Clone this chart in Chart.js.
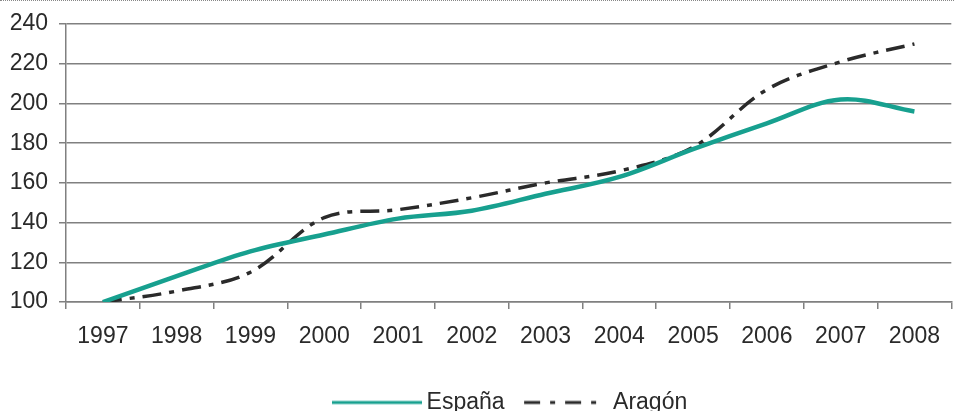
<!DOCTYPE html>
<html lang="es">
<head>
<meta charset="UTF-8">
<title>España - Aragón</title>
<script src="https://cdn.jsdelivr.net/npm/chart.js"></script>
<style>
  html, body { margin: 0; padding: 0; background: #fff; }
  .marco { width: 954px; height: 410px; border-top: 1px dotted #888; overflow: hidden; }
  canvas { display: block; }
</style>
</head>
<body>
<div class="marco">
  <canvas id="grafica" width="954" height="423"></canvas>
</div>
<script>
// años del eje horizontal
const anios = ['1997', '1998', '1999', '2000', '2001', '2002', '2003', '2004', '2005', '2006', '2007', '2008'];
// índices (1997 = 100)
const espana = [100, 113, 125.5, 134, 142, 146, 154.5, 163, 177, 190, 202, 196];
const aragon = [100, 105.5, 115, 142.5, 146.5, 152.5, 160, 166, 178, 207, 221, 230];
const ticksY = [100, 120, 140, 160, 180, 200, 220, 240];

const gris = '#808080';
const verde = '#17a08f';
const negro = '#2a2a2a';
const fuente = { family: 'Liberation Sans, Arial, sans-serif', size: 23 };
const trazoAragon = [19, 8, 5, 8];

// símbolo de la leyenda: un trozo de línea dibujado en un canvas pequeño
function simbolo(largo, color, guiones) {
  const c = document.createElement('canvas');
  c.width = 90;
  c.height = 8;
  const ctx = c.getContext('2d');
  ctx.strokeStyle = color;
  ctx.lineWidth = 3;
  ctx.setLineDash(guiones);
  ctx.beginPath();
  ctx.moveTo(90 - largo, 4);
  ctx.lineTo(90, 4);
  ctx.stroke();
  return c;
}
const simbolos = [simbolo(90, verde, []), simbolo(84, negro, [16, 10, 5, 10, 16, 10, 5, 20])];

// la leyenda va un poco desplazada a la derecha
const moverLeyenda = {
  id: 'moverLeyenda',
  afterLayout(chart) {
    chart.legend.left += 4;
    chart.legend.right += 4;
  }
};

const config = {
  type: 'line',
  data: {
    labels: anios,
    datasets: [{
      label: 'España',
      data: espana,
      borderColor: verde,
      backgroundColor: verde,
      borderWidth: 4.5,
      tension: 0.35,
      pointRadius: 0
    }, {
      label: 'Aragón',
      data: aragon,
      borderColor: negro,
      backgroundColor: negro,
      borderWidth: 3.5,
      borderDash: trazoAragon,
      tension: 0.35,
      pointRadius: 0
    }]
  },
  options: {
    responsive: false,
    animation: false,
    layout: { padding: { top: 7, left: 10, right: 0, bottom: 0 } },
    plugins: {
      tooltip: { enabled: false },
      legend: {
        position: 'bottom',
        fullSize: false,
        labels: {
          usePointStyle: true,
          pointStyleWidth: 77,
          color: negro,
          font: fuente,
          padding: 20,
          generateLabels: (chart) => {
            const items = Chart.defaults.plugins.legend.labels.generateLabels(chart);
            items.forEach((it, i) => { it.pointStyle = simbolos[i]; });
            return items;
          }
        }
      }
    },
    scales: {
      x: {
        offset: true,
        afterFit: (eje) => { eje.height = 69; },
        grid: {
          offset: true,
          drawOnChartArea: false,
          tickLength: 7,
          color: gris,
          lineWidth: 1.5
        },
        border: { color: gris, width: 1.5 },
        ticks: { color: negro, font: fuente, maxRotation: 0, autoSkip: false, padding: 14 }
      },
      y: {
        min: 100,
        max: 240,
        afterBuildTicks: (eje) => { eje.ticks = ticksY.map(v => ({ value: v })); },
        afterFit: (eje) => { eje.width = 56; },
        grid: { color: gris, lineWidth: 1.5, tickLength: 7 },
        border: { color: gris, width: 1.5 },
        ticks: { color: negro, font: { ...fuente, lineHeight: 1.05 }, padding: 11 }
      }
    }
  },
  plugins: [moverLeyenda]
};

new Chart(document.getElementById('grafica'), config);
</script>
</body>
</html>
